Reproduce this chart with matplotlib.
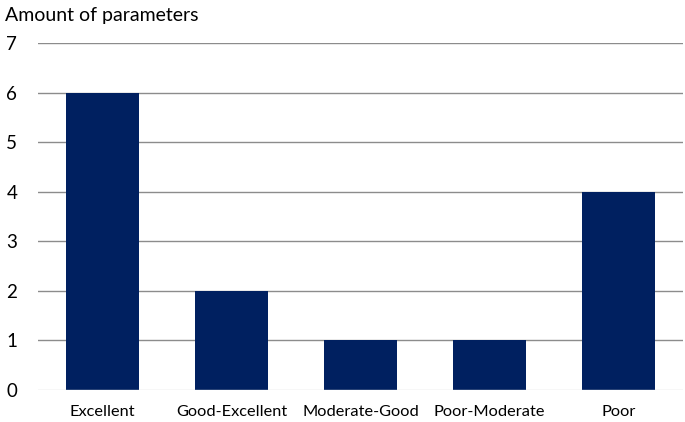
import matplotlib.pyplot as plt
import numpy as np

categories = ["Excellent", "Good-Excellent", "Moderate-Good", "Poor-Moderate", "Poor"]
counts = [6, 2, 1, 1, 4]
yticks = [0, 1, 2, 3, 4, 5, 6, 7]

plt.rcParams["font.family"] = ["Lato", "DejaVu Sans"]

fig = plt.figure(figsize=(6.85, 4.22), dpi=100)
ax = fig.add_axes([38 / 685, 1 - 390 / 422, 645 / 685, (390 - 43) / 422])

x = np.arange(len(categories))
ax.bar(x, counts, width=0.56, color="#002060", zorder=3)

ax.set_xlim(-0.5, len(categories) - 0.5)
ax.set_ylim(0, 7)
ax.set_yticks(yticks)
ax.set_xticks(x)
ax.set_xticklabels(categories, fontsize=11.8)
ax.tick_params(axis="y", labelsize=13.5, length=0, pad=15)
ax.tick_params(axis="x", length=0, pad=11)

for y in yticks[1:]:
    ax.axhline(y, color="#8c8c8c", linewidth=1, zorder=1)
ax.axhline(0, color="#d9d9d9", linewidth=1, zorder=4)

for s in ax.spines.values():
    s.set_visible(False)

fig.text(5 / 685, 1 - 15 / 422, "Amount of parameters", fontsize=14, va="center", ha="left")

fig.savefig("out.png", dpi=100)
